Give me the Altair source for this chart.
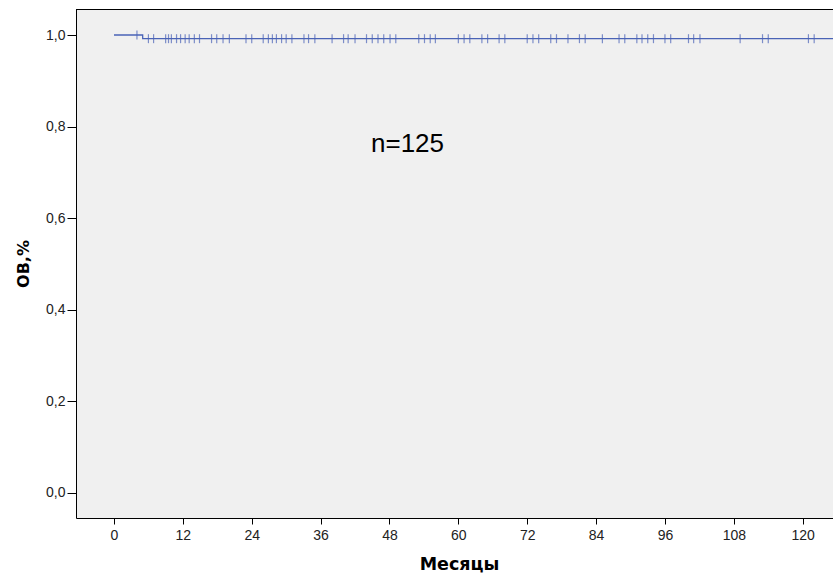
import altair as alt
import pandas as pd

# Kaplan-Meier curve (months, survival)
curve_t = [0, 5, 131]
curve_s = [1.0, 0.992, 0.992]

# censored observations (months) and survival level at those times
cens_t = [4.0, 6.0, 6.9, 9.0, 9.5, 10.0, 10.9, 11.6, 12.4, 13.1, 14.0, 14.9, 17.0, 17.9,
          19.0, 20.1, 23.0, 24.0, 26.0, 26.9, 27.6, 28.3, 29.2, 30.0, 31.0, 33.1, 33.9,
          35.0, 38.0, 40.0, 40.8, 42.0, 44.0, 45.0, 46.0, 47.0, 48.1, 49.1, 53.1, 54.1,
          55.1, 56.0, 60.0, 61.0, 62.0, 64.1, 65.1, 67.1, 68.1, 72.0, 73.0, 74.0, 76.1,
          77.1, 79.1, 81.1, 82.1, 85.1, 88.0, 89.0, 91.1, 92.0, 93.0, 94.0, 96.0, 97.0,
          100.1, 101.0, 102.1, 109.1, 113.0, 114.0, 121.0, 122.0]
cens_s = [1.0] + [0.992] * (len(cens_t) - 1)

x_ticks = [0, 12, 24, 36, 48, 60, 72, 84, 96, 108, 120]
y_ticks = [0.0, 0.2, 0.4, 0.6, 0.8, 1.0]

curve_df = pd.DataFrame({"t": curve_t, "s": curve_s})
cens_df = pd.DataFrame({"t": cens_t, "s": cens_s})

W, H = 757, 509
blue = "#4a63b6"

xscale = alt.Scale(domain=[-6.62, 125.28], nice=False, zero=False)
yscale = alt.Scale(domain=[-0.0546, 1.0568], nice=False, zero=False)

xaxis = alt.Axis(values=x_ticks, title="Месяцы", grid=False, domainColor="#000",
                 tickColor="#000", tickSize=6, labelFont="Liberation Sans",
                 labelFontSize=14, labelColor="#222", labelPadding=4,
                 titleFont="DejaVu Sans", titleFontSize=17.5, titleFontWeight="bold",
                 titleColor="#000", titlePadding=13, titleX=383)
yaxis = alt.Axis(values=y_ticks, title="ОВ,%", grid=False, domainColor="#000",
                 tickColor="#000", tickSize=9, labelFont="Liberation Sans",
                 labelFontSize=14, labelColor="#222", labelPadding=2,
                 labelExpr="replace(format(datum.value, '.1f'), '.', ',')",
                 titleFont="DejaVu Sans", titleFontSize=16, titleFontWeight="bold",
                 titleColor="#000", titlePadding=14)

line = alt.Chart(curve_df).mark_line(interpolate="step-after", color=blue,
                                     strokeWidth=1.3, clip=True).encode(
    x=alt.X("t:Q", scale=xscale, axis=xaxis),
    y=alt.Y("s:Q", scale=yscale, axis=yaxis),
)

ticks = alt.Chart(cens_df).mark_tick(orient="vertical", color=blue, size=9,
                                     thickness=1.2, clip=True).encode(
    x=alt.X("t:Q", scale=xscale),
    y=alt.Y("s:Q", scale=yscale),
)

top_border = alt.Chart(curve_df).mark_rule(color="#000", strokeWidth=1).encode(
    x=alt.value(0), x2=alt.value(W), y=alt.value(0.5)
)

label = alt.Chart(pd.DataFrame({"txt": ["n=125"]})).mark_text(
    font="Liberation Sans", fontSize=26, color="#000", align="center",
    baseline="alphabetic"
).encode(x=alt.value(407.5 - 76), y=alt.value(151.7 - 9), text="txt:N")

chart = alt.layer(line, ticks, top_border, label).properties(
    width=W, height=H,
    autosize=alt.AutoSizeParams(type="none"),
    padding={"left": 76, "top": 9, "right": 0, "bottom": 60},
    background="white",
).configure_view(fill="#f0f0f0", stroke=None)

chart.save("out.html", embed_options={"renderer": "svg", "actions": False})
